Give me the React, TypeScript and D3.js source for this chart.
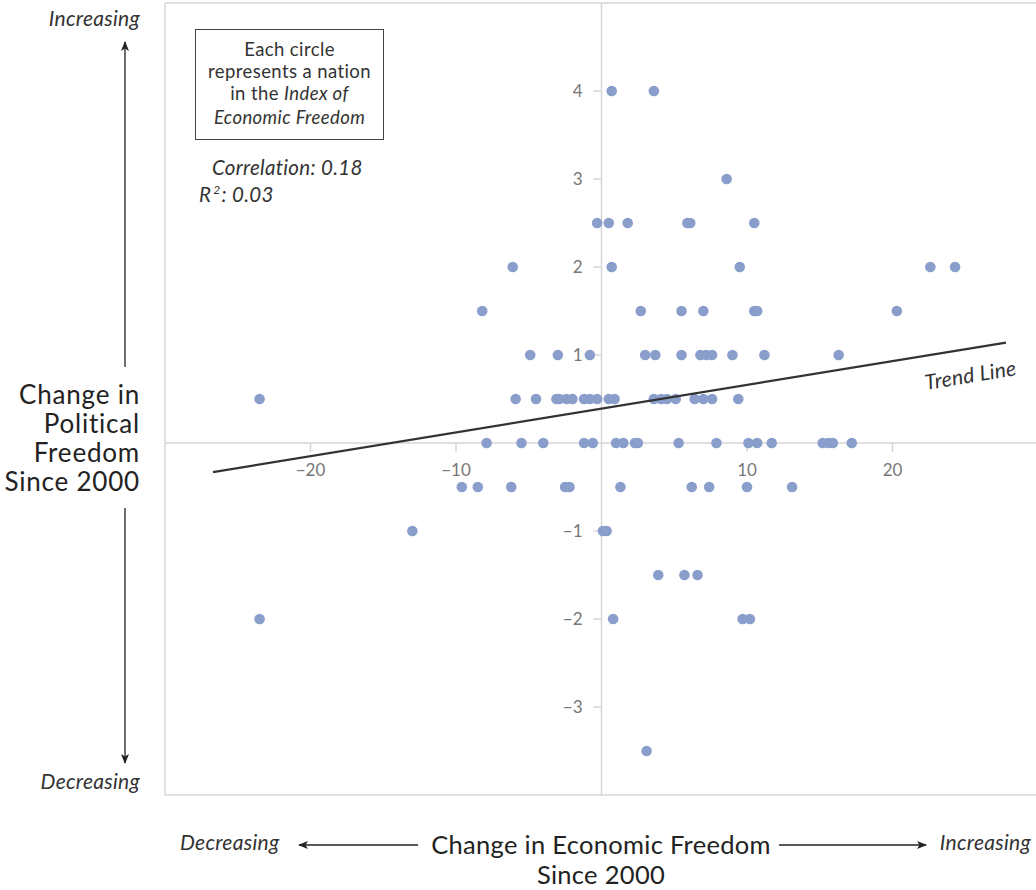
import React from "react";
import * as d3 from "d3";

// ---- Data ----
const econChange: number[] = [
  0.7, 3.6,
  8.6,
  -0.3, 0.5, 1.8, 5.9, 6.1, 10.5,
  -6.1, 0.7, 9.5, 22.6, 24.3,
  -8.2, 2.7, 5.5, 7.0, 10.5, 10.7, 20.3,
  -4.9, -3.0, -0.8, 3.0, 3.7, 5.5, 6.8, 7.2, 7.6, 9.0, 11.2, 16.3,
  -23.5, -5.9, -4.5, -3.1, -2.9, -2.4, -2.0, -1.2, -0.8, -0.3, 0.5, 0.9, 3.6, 4.1, 4.5, 5.1, 6.4, 7.0, 7.6, 9.4,
  -7.9, -5.5, -4.0, -1.2, -0.6, 1.0, 1.5, 2.3, 2.5, 5.3, 7.9, 10.1, 10.7, 11.7, 15.2, 15.6, 15.9, 17.2,
  -9.6, -8.5, -6.2, -2.5, -2.2, 1.3, 6.2, 7.4, 10.0, 13.1,
  -13.0, 0.1, 0.35,
  3.9, 5.7, 6.6,
  -23.5, 0.8, 9.7, 10.2,
  3.1,
];
const polChange: number[] = [
  4, 4,
  3,
  2.5, 2.5, 2.5, 2.5, 2.5, 2.5,
  2, 2, 2, 2, 2,
  1.5, 1.5, 1.5, 1.5, 1.5, 1.5, 1.5,
  1, 1, 1, 1, 1, 1, 1, 1, 1, 1, 1, 1,
  0.5, 0.5, 0.5, 0.5, 0.5, 0.5, 0.5, 0.5, 0.5, 0.5, 0.5, 0.5, 0.5, 0.5, 0.5, 0.5, 0.5, 0.5, 0.5, 0.5,
  0, 0, 0, 0, 0, 0, 0, 0, 0, 0, 0, 0, 0, 0, 0, 0, 0, 0,
  -0.5, -0.5, -0.5, -0.5, -0.5, -0.5, -0.5, -0.5, -0.5, -0.5,
  -1, -1, -1,
  -1.5, -1.5, -1.5,
  -2, -2, -2, -2,
  -3.5,
];
const trendX: number[] = [-26.7, 27.8];
const trendY: number[] = [-0.33, 1.14];
const xTicks: number[] = [-20, -10, 10, 20];
const yTicks: number[] = [4, 3, 2, 1, -1, -2, -3];
const xDomain: [number, number] = [-30, 30];
const yDomain: [number, number] = [-4, 5];

const FONT = "Lato, 'Noto Sans', sans-serif";

export default function App() {
  const left = 165, right = 1038, top = 3, bottom = 795;
  const x = d3.scaleLinear().domain(xDomain).range([left, right]);
  const y = d3.scaleLinear().domain(yDomain).range([bottom, top]);
  const points = econChange.map((v, i) => ({ x: v, y: polChange[i] }));
  const trend = trendX.map((v, i) => [v, trendY[i]] as [number, number]);
  const line = d3.line<[number, number]>().x(d => x(d[0])).y(d => y(d[1]));
  const fmt = (v: number) => (v < 0 ? "\u2212" + Math.abs(v) : String(v));
  const gridCol = "#d6d6d6";
  const x0 = x(0), y0 = y(0);
  const angle = (Math.atan2(y(trendY[1]) - y(trendY[0]), x(trendX[1]) - x(trendX[0])) * 180) / Math.PI;

  return (
    <svg width={1036} height={890} style={{ position: "absolute", left: 0, top: 0, background: "#fff" }} fontFamily={FONT}>
      <defs>
        <marker id="ah" viewBox="0 0 10 10" refX="9" refY="5" markerWidth="10" markerHeight="10" markerUnits="userSpaceOnUse" orient="auto-start-reverse">
          <path d="M0,1 L10,5 L0,9 L2.5,5 Z" fill="#222" />
        </marker>
      </defs>
      {/* frame */}
      <line x1={left} x2={left} y1={top} y2={bottom} stroke={gridCol} strokeWidth={1.5} />
      <line x1={left} x2={1036} y1={top} y2={top} stroke={gridCol} strokeWidth={1.5} />
      <line x1={left} x2={1036} y1={bottom} y2={bottom} stroke={gridCol} strokeWidth={1.5} />
      {/* zero axes */}
      <line x1={left} x2={1036} y1={y0} y2={y0} stroke={gridCol} strokeWidth={1.5} />
      <line x1={x0} x2={x0} y1={top} y2={bottom} stroke={gridCol} strokeWidth={1.5} />
      {/* x ticks */}
      {xTicks.map(t => (
        <g key={"xt" + t}>
          <line x1={x(t)} x2={x(t)} y1={y0} y2={y0 + 9} stroke={gridCol} strokeWidth={1.5} />
          <text x={x(t)} y={y0 + 33} textAnchor="middle" fontSize={17} fill="#777">{fmt(t)}</text>
        </g>
      ))}
      {/* y ticks */}
      {yTicks.map(t => (
        <g key={"yt" + t}>
          <line x1={x0 - 8} x2={x0} y1={y(t)} y2={y(t)} stroke={gridCol} strokeWidth={1.5} />
          <text x={x0 - 19} y={y(t) + 6} textAnchor="end" fontSize={17} fill="#777">{fmt(t)}</text>
        </g>
      ))}
      {/* points */}
      {points.map((p, i) => (
        <circle key={i} cx={x(p.x)} cy={y(p.y)} r={5.3} fill="#8a9ecb" />
      ))}
      {/* trend line */}
      <path d={line(trend) || ""} fill="none" stroke="#333" strokeWidth={2.2} />
      <text transform={`translate(926,390) rotate(${angle})`} fontSize={21} letterSpacing={0.3} fontStyle="italic" fill="#333">Trend Line</text>
      {/* annotation box */}
      <rect x={195.5} y={29.5} width={188} height={110} fill="#fff" stroke="#444" strokeWidth={1} />
      <g fontSize={18.5} letterSpacing={0.4} fill="#333" textAnchor="middle">
        <text x={289.5} y={56}>Each circle</text>
        <text x={289.5} y={78}>represents a nation</text>
        <text x={289.5} y={100}>in the <tspan fontStyle="italic">Index of</tspan></text>
        <text x={289.5} y={124} fontStyle="italic">Economic Freedom</text>
      </g>
      <g fontSize={20.5} letterSpacing={0.3} fill="#333" fontStyle="italic">
        <text x={212} y={175}>Correlation: 0.18</text>
        <text x={199} y={202}>R<tspan dx={2} dy={-8} fontSize={12}>2</tspan><tspan dx={1} dy={8}>: 0.03</tspan></text>
      </g>
      {/* y axis title */}
      <g fontSize={26} letterSpacing={0.8} fill="#222" textAnchor="end">
        <text x={140} y={404}>Change in</text>
        <text x={140} y={433}>Political</text>
        <text x={140} y={462}>Freedom</text>
        <text x={140} y={491}>Since 2000</text>
      </g>
      <text x={140} y={26} textAnchor="end" fontSize={21} letterSpacing={0.3} fontStyle="italic" fill="#333">Increasing</text>
      <text x={140} y={789} textAnchor="end" fontSize={21} letterSpacing={0.3} fontStyle="italic" fill="#333">Decreasing</text>
      <line x1={125} x2={125} y1={367} y2={42} stroke="#222" strokeWidth={1.3} markerEnd="url(#ah)" />
      <line x1={125} x2={125} y1={508} y2={763} stroke="#222" strokeWidth={1.3} markerEnd="url(#ah)" />
      {/* x axis title */}
      <g fontSize={25.5} letterSpacing={0.3} fill="#222" textAnchor="middle">
        <text x={601} y={854}>Change in Economic Freedom</text>
        <text x={601} y={884}>Since 2000</text>
      </g>
      <text x={180} y={850} fontSize={21} letterSpacing={0.3} fontStyle="italic" fill="#333">Decreasing</text>
      <text x={1031} y={850} textAnchor="end" fontSize={21} letterSpacing={0.3} fontStyle="italic" fill="#333">Increasing</text>
      <line x1={418} x2={299} y1={845} y2={845} stroke="#222" strokeWidth={1.3} markerEnd="url(#ah)" />
      <line x1={779} x2={926} y1={845} y2={845} stroke="#222" strokeWidth={1.3} markerEnd="url(#ah)" />
    </svg>
  );
}
